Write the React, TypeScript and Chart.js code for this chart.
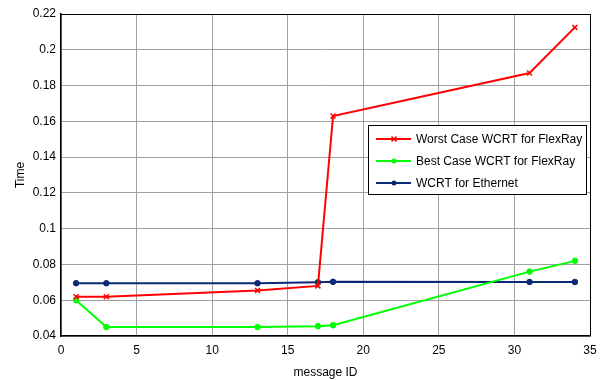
import React, { useEffect, useRef } from "react";
import { Chart, registerables } from "chart.js";

Chart.register(...registerables);

const messageIds = [1, 3, 13, 17, 18, 31, 34];
const worstFlexRay = [0.062, 0.062, 0.0655, 0.068, 0.163, 0.187, 0.2125];
const bestFlexRay = [0.06, 0.045, 0.045, 0.0455, 0.046, 0.076, 0.082];
const ethernet = [0.0695, 0.0695, 0.0695, 0.07, 0.0703, 0.0702, 0.0702];
const seriesLabels = [
  "Worst Case WCRT for FlexRay",
  "Best Case WCRT for FlexRay",
  "WCRT for Ethernet",
];
const seriesColors = ["#ff0000", "#00ff00", "#0a2a78"];
const seriesMarkers = ["crossRot", "circle", "circle"];

const FONT = "'Liberation Sans', Arial, sans-serif";

const legendPlugin = {
  id: "boxLegend",
  afterDraw(chart: any) {
    const ctx = chart.ctx;
    const area = chart.chartArea;
    const w = 218;
    const h = 69;
    const x0 = area.right - 4 - w;
    const y0 = area.top + 111;
    ctx.save();
    ctx.fillStyle = "#ffffff";
    ctx.fillRect(x0, y0, w, h);
    ctx.strokeStyle = "#000000";
    ctx.lineWidth = 1;
    ctx.strokeRect(x0 + 0.5, y0 + 0.5, w, h);
    ctx.font = "12px " + FONT;
    ctx.textBaseline = "middle";
    ctx.textAlign = "left";
    for (let i = 0; i < seriesLabels.length; i++) {
      const cy = y0 + 14 + i * 22;
      ctx.strokeStyle = seriesColors[i];
      ctx.lineWidth = 2;
      ctx.beginPath();
      ctx.moveTo(x0 + 8, cy);
      ctx.lineTo(x0 + 43, cy);
      ctx.stroke();
      ctx.fillStyle = seriesColors[i];
      if (seriesMarkers[i] === "crossRot") {
        ctx.lineWidth = 1.5;
        ctx.beginPath();
        ctx.moveTo(x0 + 23.5, cy - 2.5);
        ctx.lineTo(x0 + 28.5, cy + 2.5);
        ctx.moveTo(x0 + 28.5, cy - 2.5);
        ctx.lineTo(x0 + 23.5, cy + 2.5);
        ctx.stroke();
      } else {
        ctx.beginPath();
        ctx.arc(x0 + 26, cy, 2.5, 0, Math.PI * 2);
        ctx.fill();
      }
      ctx.fillStyle = "#000000";
      ctx.fillText(seriesLabels[i], x0 + 48, cy + 0.5);
    }
    ctx.restore();
  },
};

export default function App() {
  const canvasRef = useRef<HTMLCanvasElement | null>(null);

  useEffect(() => {
    document.body.style.margin = "0";
    const canvas = canvasRef.current;
    if (!canvas) return;
    const makeData = (ys: number[]) => messageIds.map((x, i) => ({ x, y: ys[i] }));
    const all = [worstFlexRay, bestFlexRay, ethernet];
    const chart = new Chart(canvas, {
      type: "line",
      data: {
        datasets: all.map((ys, i) => ({
          label: seriesLabels[i],
          data: makeData(ys),
          borderColor: seriesColors[i],
          backgroundColor: seriesColors[i],
          borderWidth: 2,
          pointStyle: seriesMarkers[i] as any,
          pointRadius: seriesMarkers[i] === "crossRot" ? 3.5 : 2.8,
          pointBorderWidth: seriesMarkers[i] === "crossRot" ? 1.5 : 1,
          pointBorderColor: seriesColors[i],
          pointBackgroundColor: seriesColors[i],
          tension: 0,
          fill: false,
        })),
      },
      options: {
        animation: false,
        responsive: false,
        maintainAspectRatio: false,
        layout: { padding: { top: 14, right: 21, left: 13, bottom: 0 } },
        plugins: {
          legend: { display: false },
          tooltip: { enabled: false },
        },
        scales: {
          x: {
            type: "linear",
            min: 0,
            max: 35,
            ticks: {
              stepSize: 5,
              color: "#000",
              font: { family: FONT, size: 12 },
              padding: 7,
            },
            grid: {
              color: "#a0a0a0",
              lineWidth: 1,
              drawTicks: false,
            },
            border: { color: "#000", width: 1.5 },
            title: {
              display: true,
              text: "message ID",
              color: "#000",
              font: { family: FONT, size: 12 },
              padding: { top: 2, bottom: 0 },
            },
            afterFit(scale: any) {
              scale.height = 44;
            },
          },
          y: {
            type: "linear",
            min: 0.04,
            max: 0.22,
            ticks: {
              stepSize: 0.02,
              color: "#000",
              font: { family: FONT, size: 12 },
              padding: 5,
              callback: (v: any) => String(Math.round(Number(v) * 100) / 100),
            },
            grid: {
              color: "#a0a0a0",
              lineWidth: 1,
              drawTicks: false,
            },
            border: { color: "#000", width: 1.5 },
            title: {
              display: true,
              text: "Time",
              color: "#000",
              font: { family: FONT, size: 12 },
              padding: { top: 0, bottom: 0 },
            },
            afterFit(scale: any) {
              scale.width = 48;
            },
          },
        },
      },
      plugins: [
        legendPlugin,
        {
          id: "frame",
          afterDatasetsDraw(chart: any) {
            const { ctx, chartArea: a } = chart;
            ctx.save();
            ctx.strokeStyle = "#000";
            ctx.lineWidth = 1;
            ctx.beginPath();
            ctx.moveTo(a.left, a.top + 0.5);
            ctx.lineTo(a.right + 0.5, a.top + 0.5);
            ctx.lineTo(a.right + 0.5, a.bottom);
            ctx.stroke();
            ctx.restore();
          },
        },
      ],
    } as any);
    return () => chart.destroy();
  }, []);

  return (
    <div style={{ position: "absolute", left: 0, top: 0, width: 611, height: 380, background: "#fff" }}>
      <canvas ref={canvasRef} width={611} height={380} style={{ width: 611, height: 380 }} />
    </div>
  );
}
